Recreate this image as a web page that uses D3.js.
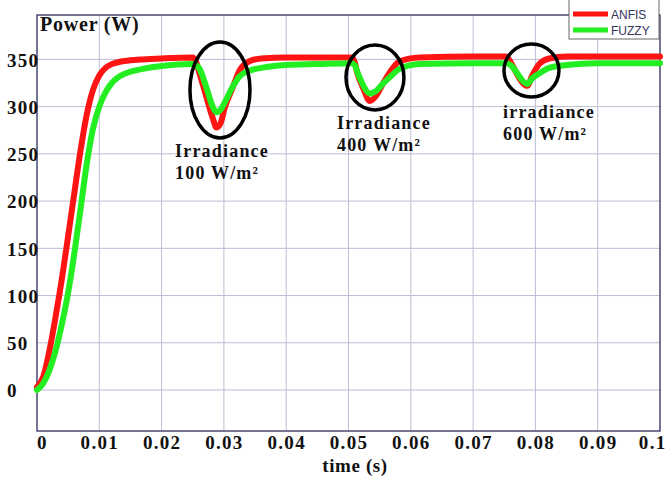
<!DOCTYPE html>
<html>
<head>
<meta charset="utf-8">
<script src="https://cdn.jsdelivr.net/npm/d3@7"></script>
<style>
  body { margin: 0; background: #fff; }
  svg { display: block; }
  .serif { font-family: "Liberation Serif", "Times New Roman", serif; font-weight: bold; fill: #111; }
  .legend text { font-family: "Liberation Sans", Arial, sans-serif; font-size: 12px; fill: #33335a; }
</style>
</head>
<body>
<svg id="chart"></svg>
<script>
// simulation output
const timeS = [0, 0.001, 0.002, 0.003, 0.004, 0.005, 0.006, 0.007, 0.008, 0.009, 0.010, 0.011, 0.012, 0.013,
  0.015, 0.017, 0.020, 0.025, 0.0255, 0.0261, 0.0272, 0.0282, 0.0288, 0.0295, 0.0301, 0.0314, 0.0325, 0.0341,
  0.036, 0.040, 0.045, 0.0505, 0.0510, 0.0514, 0.0524, 0.0534, 0.0545, 0.0555, 0.0566, 0.0582, 0.0614, 0.070,
  0.0753, 0.0762, 0.077, 0.078, 0.0787, 0.0795, 0.0806, 0.0822, 0.085, 0.090, 0.100];
const anfisW = [3, 14, 42, 78, 118, 163, 209, 254, 292, 318, 333, 341, 345, 347,
  349, 350, 351, 352, 348, 335, 310, 288, 278, 283, 298, 320, 338, 348,
  351, 352, 352, 352, 347, 336, 319, 306, 312, 324, 336, 348, 352, 353,
  353, 345, 335, 325, 322, 333, 345, 351, 353, 353, 353];
const fuzzyW = [0, 7, 21, 42, 70, 103, 145, 192, 240, 277, 300, 315, 325, 331,
  337, 340, 343, 345, 344, 340, 320, 300, 294, 297, 304, 321, 332, 338,
  341, 344, 345, 346, 344, 337, 322, 314, 317, 324, 331, 340, 345, 346,
  346, 343, 336, 327, 324, 330, 335, 341, 344, 346, 346];

const xTicks = [0, 0.01, 0.02, 0.03, 0.04, 0.05, 0.06, 0.07, 0.08, 0.09, 0.1];
const xTickLabels = ["0", "0.01", "0.02", "0.03", "0.04", "0.05", "0.06", "0.07", "0.08", "0.09", "0.1"];
const yTicks = [0, 50, 100, 150, 200, 250, 300, 350];
const seriesNames = ["ANFIS", "FUZZY"];
const seriesColors = ["#ff1414", "#22ee22"];

// circled dips and their captions
const dips = [
  { t: 0.02937, p: 317.7, dt: 0.00482, dp: 50.8, lt: 0.02215, lp: 246.7, lines: ["Irradiance", "100 W/m²"] },
  { t: 0.05425, p: 330.9, dt: 0.00465, dp: 34.4, lt: 0.04815, lp: 276.4, lines: ["Irradiance", "400 W/m²"] },
  { t: 0.07937, p: 338.3, dt: 0.00441, dp: 28.1, lt: 0.0748, lp: 288.0, lines: ["irradiance", "600 W/m²"] }
];

const W = 667, H = 479;
const margin = { top: 15, right: 7, bottom: 48, left: 37 };
const width = W - margin.left - margin.right;
const height = H - margin.top - margin.bottom;

const svg = d3.select("#chart").attr("width", W).attr("height", H);
const g = svg.append("g").attr("transform", `translate(${margin.left},${margin.top})`);

const x = d3.scaleLinear().domain([0, 0.1]).range([0, width]);
const y = d3.scaleLinear().domain([-43.4, 397]).range([height, 0]);

// grid
g.append("g").selectAll("line").data(xTicks.slice(1, -1)).join("line")
  .attr("x1", d => x(d)).attr("x2", d => x(d)).attr("y1", 0).attr("y2", height)
  .attr("stroke", "#bcbcd6").attr("stroke-width", 1);
g.append("g").selectAll("line").data(yTicks).join("line")
  .attr("x1", 0).attr("x2", width).attr("y1", d => y(d)).attr("y2", d => y(d))
  .attr("stroke", "#bcbcd6").attr("stroke-width", 1);

// frame
g.append("rect").attr("width", width).attr("height", height)
  .attr("fill", "none").attr("stroke", "#2c2c5c").attr("stroke-width", 1.3);

// axes (labels only, the frame does the lines)
const xAxis = g.append("g").attr("transform", `translate(0,${height})`)
  .call(d3.axisBottom(x).tickValues(xTicks).tickFormat((d, i) => xTickLabels[i]).tickSize(0).tickPadding(4));
xAxis.select(".domain").remove();
xAxis.selectAll("text").attr("class", "serif").attr("font-size", 19).attr("letter-spacing", 1.3)
  .attr("dy", "0.75em").attr("fill", "#111");
// first label sits a little right of its tick, last one is pushed inside the page
xAxis.selectAll(".tick").filter(d => d === 0).select("text").attr("dx", 5);
xAxis.selectAll(".tick").filter(d => d === 0.1).select("text")
  .attr("text-anchor", "end").attr("dx", W - margin.left - width - 1);

const yAxis = g.append("g")
  .call(d3.axisLeft(y).tickValues(yTicks).tickSize(0));
yAxis.select(".domain").remove();
yAxis.selectAll("text").attr("class", "serif").attr("font-size", 19).attr("letter-spacing", 1.2)
  .attr("text-anchor", "start").attr("x", 7 - margin.left).attr("dy", "0.36em").attr("fill", "#111");

// series
const line = (vals) => d3.line()
  .x((d, i) => x(timeS[i]))
  .y(d => y(d))
  .curve(d3.curveMonotoneX)(vals);

[anfisW, fuzzyW].forEach((vals, i) => {
  g.append("path")
    .attr("d", line(vals))
    .attr("fill", "none")
    .attr("stroke", seriesColors[i])
    .attr("stroke-width", 6)
    .attr("stroke-linejoin", "round")
    .attr("stroke-linecap", "round");
});

// annotations
dips.forEach(d => {
  g.append("ellipse")
    .attr("cx", x(d.t)).attr("cy", y(d.p))
    .attr("rx", x(d.dt) - x(0)).attr("ry", y(0) - y(d.dp))
    .attr("fill", "none").attr("stroke", "#000").attr("stroke-width", 3.5);
  const txt = g.append("text").attr("class", "serif")
    .attr("font-size", 18).attr("letter-spacing", 1.2)
    .attr("x", x(d.lt)).attr("y", y(d.lp));
  d.lines.forEach((s, k) => {
    txt.append("tspan").attr("x", x(d.lt)).attr("dy", k === 0 ? 0 : 22).text(s);
  });
});

// titles
svg.append("text").attr("class", "serif").attr("font-size", 20).attr("letter-spacing", 0.8)
  .attr("x", 40).attr("y", 31).text("Power (W)");
svg.append("text").attr("class", "serif").attr("font-size", 19).attr("letter-spacing", 0.6)
  .attr("text-anchor", "middle").attr("x", 355).attr("y", 472).text("time (s)");

// legend
const lg = svg.append("g").attr("class", "legend").attr("transform", "translate(569,-5)");
lg.append("rect").attr("width", 90).attr("height", 44)
  .attr("fill", "#fff").attr("stroke", "#666").attr("stroke-width", 1);
seriesNames.forEach((name, i) => {
  const yy = 19 + i * 16;
  lg.append("line").attr("x1", 4).attr("x2", 39).attr("y1", yy).attr("y2", yy)
    .attr("stroke", seriesColors[i]).attr("stroke-width", 5);
  lg.append("text").attr("x", 42).attr("y", yy + 4.5).text(name);
});
</script>
</body>
</html>
